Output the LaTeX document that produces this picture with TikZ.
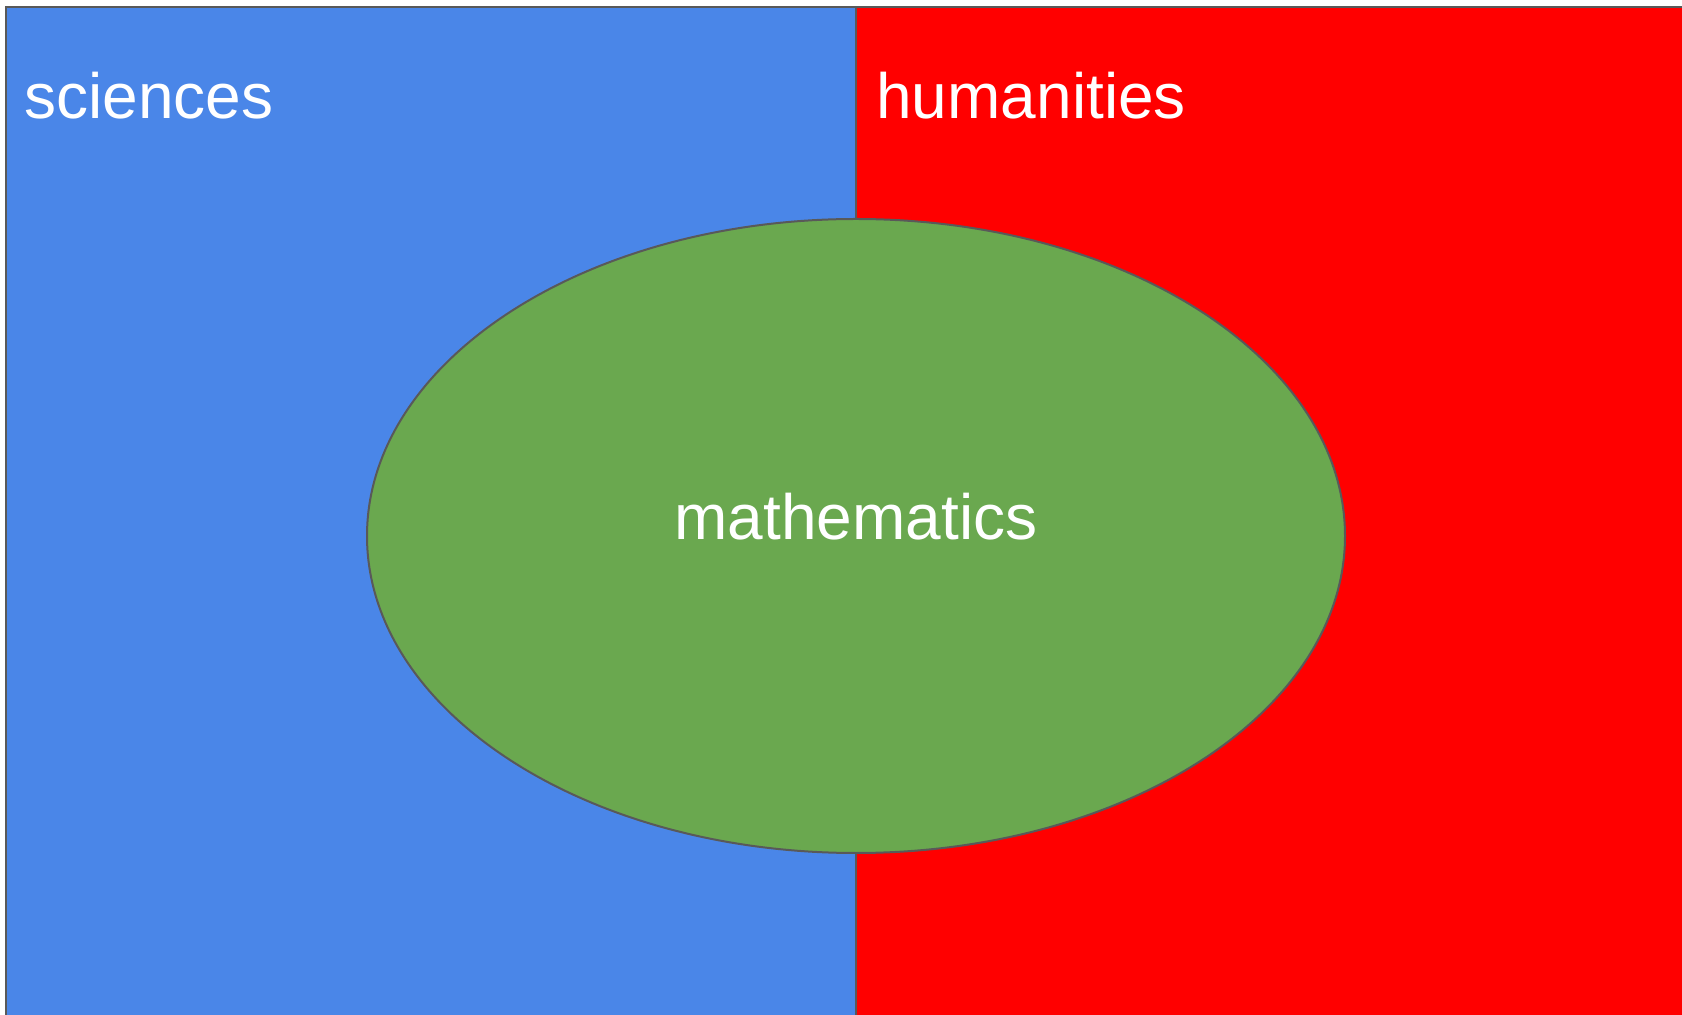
\documentclass[tikz,border=0pt]{standalone}
\usepackage{fontspec}
\usetikzlibrary{shapes.geometric}
\setmainfont{Liberation Sans}
\definecolor{sciblue}{HTML}{4A86E8}
\definecolor{humred}{HTML}{FF0000}
\definecolor{mathgreen}{HTML}{6AA84F}
\definecolor{edgegray}{HTML}{595959}
\begin{document}
\begin{tikzpicture}[x=0.5pt,y=-0.5pt,
  region/.style={draw=edgegray,line width=1pt},
  lbl/.style={text=white,font=\fontsize{32}{36}\selectfont,inner sep=0pt,anchor=base west}]
\useasboundingbox[fill=white] (0,0) rectangle (1682,1015);
\begin{scope}
\clip (0,0) rectangle (1682,1015);
\path[region,fill=sciblue] (6,7) rectangle (856,1030);
\path[region,fill=humred] (856,7) rectangle (1700,1030);
\end{scope}
\node[region,fill=mathgreen,ellipse,inner sep=0pt,minimum width=489pt,minimum height=317pt] (m) at (856,536) {};
\coordinate (mc) at (856,540);
\node[lbl] (sci) at (24,119) {sciences};
\node[lbl] (hum) at (876,119) {humanities};
\node[lbl,anchor=base] (math) at (mc) {mathematics};
\end{tikzpicture}
\end{document}
